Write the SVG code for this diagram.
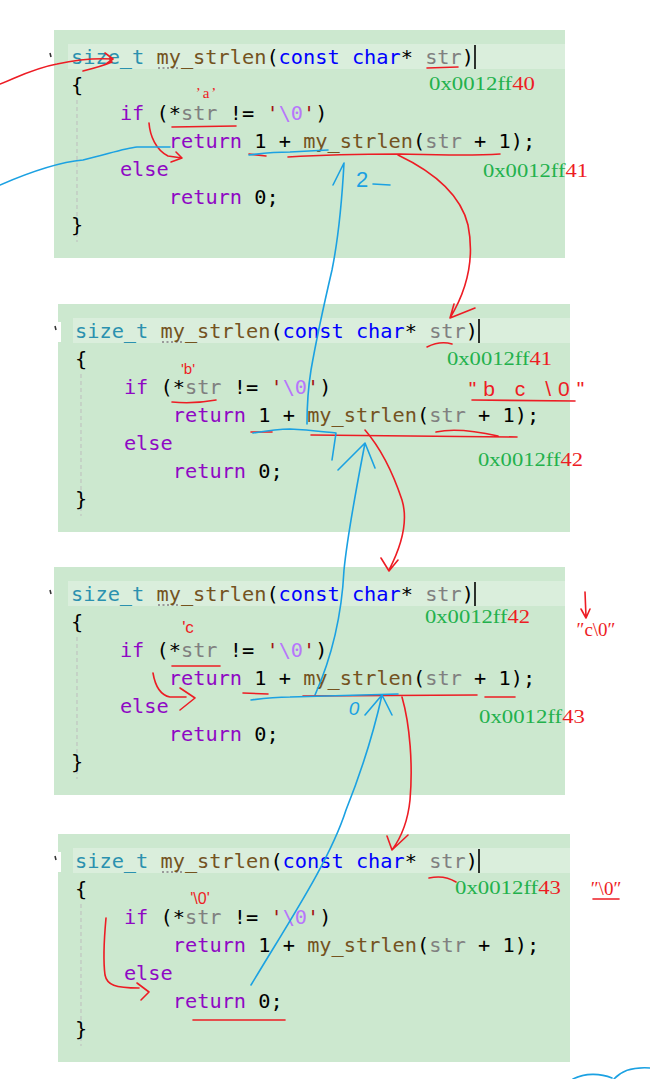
<svg xmlns="http://www.w3.org/2000/svg" width="650" height="1079" viewBox="0 0 650 1079">
<style>
.bg{fill:#CCE8CF}
.hd{fill:#DAEEDC}
.code{font-family:"DejaVu Sans Mono",monospace;font-size:20.3px;fill:#000}
.ty{fill:#2B91AF}.fn{fill:#74531F}.kw{fill:#0000FF}.pm{fill:#808080}.ct{fill:#8F08C4}.st{fill:#A31515}.es{fill:#B776FB}
.cur{stroke:#000;stroke-width:1.6}
.guide{stroke:#BDBDBD;stroke-width:1;stroke-dasharray:4 3}
.dots{stroke:#9A9A9A;stroke-width:2;stroke-dasharray:2 2.5}
.tick{stroke:#333;stroke-width:1.5}
.notch{fill:#FFFFFF}
.addr{font-family:"Liberation Serif",serif;font-size:18px;fill:#22B14C}
.addr .r{fill:#ED1C24}
.red{stroke:#ED1C24;fill:none;stroke-width:1.6;stroke-linecap:round;stroke-linejoin:round}
.blue{stroke:#1BA1E2;fill:none;stroke-width:1.6;stroke-linecap:round;stroke-linejoin:round}
.rt{font-family:"Liberation Sans",sans-serif;fill:#ED1C24}
.rs{font-family:"Liberation Serif",serif;fill:#ED1C24}
.bt{font-family:"Liberation Sans",sans-serif;fill:#1BA1E2}
</style>

<g id="frame1" transform="translate(54,30)">
<rect class="bg" x="0" y="0" width="511" height="228"/>
<rect class="hd" x="14" y="14" width="497" height="25"/>
<line class="tick" x1="-4" y1="23" x2="-3" y2="27"/>
<line class="guide" x1="23" y1="70" x2="23" y2="212"/>
<line class="dots" x1="104" y1="38" x2="124" y2="38"/>
<line class="cur" x1="421" y1="15" x2="421" y2="39"/>
<text class="code" xml:space="preserve" x="17" y="34"><tspan class="ty">size_t</tspan> <tspan class="fn">my_strlen</tspan>(<tspan class="kw">const</tspan> <tspan class="kw">char</tspan>* <tspan class="pm">str</tspan>)</text>
<text class="code" x="17" y="62">{</text>
<text class="code" xml:space="preserve" x="65.9" y="90"><tspan class="ct">if</tspan> (*<tspan class="pm">str</tspan> != <tspan class="st">'</tspan><tspan class="es">\0</tspan><tspan class="st">'</tspan>)</text>
<text class="code" xml:space="preserve" x="114.8" y="118"><tspan class="ct">return</tspan> 1 + <tspan class="fn">my_strlen</tspan>(<tspan class="pm">str</tspan> + 1);</text>
<text class="code" x="65.9" y="146"><tspan class="ct">else</tspan></text>
<text class="code" xml:space="preserve" x="114.8" y="174"><tspan class="ct">return</tspan> 0;</text>
<text class="code" x="17" y="202">}</text>
</g>

<g id="frame2" transform="translate(58,304)">
<rect class="bg" x="0" y="0" width="512" height="228"/>
<rect class="hd" x="15" y="14" width="497" height="25"/>
<rect class="notch" x="-1" y="18" width="4" height="20"/>
<line class="tick" x1="-3" y1="22" x2="-2" y2="26"/>
<line class="guide" x1="23" y1="70" x2="23" y2="212"/>
<line class="dots" x1="104" y1="38" x2="124" y2="38"/>
<line class="cur" x1="421" y1="15" x2="421" y2="39"/>
<text class="code" xml:space="preserve" x="17" y="34"><tspan class="ty">size_t</tspan> <tspan class="fn">my_strlen</tspan>(<tspan class="kw">const</tspan> <tspan class="kw">char</tspan>* <tspan class="pm">str</tspan>)</text>
<text class="code" x="17" y="62">{</text>
<text class="code" xml:space="preserve" x="65.9" y="90"><tspan class="ct">if</tspan> (*<tspan class="pm">str</tspan> != <tspan class="st">'</tspan><tspan class="es">\0</tspan><tspan class="st">'</tspan>)</text>
<text class="code" xml:space="preserve" x="114.8" y="118"><tspan class="ct">return</tspan> 1 + <tspan class="fn">my_strlen</tspan>(<tspan class="pm">str</tspan> + 1);</text>
<text class="code" x="65.9" y="146"><tspan class="ct">else</tspan></text>
<text class="code" xml:space="preserve" x="114.8" y="174"><tspan class="ct">return</tspan> 0;</text>
<text class="code" x="17" y="202">}</text>
</g>

<g id="frame3" transform="translate(54,567)">
<rect class="bg" x="0" y="0" width="511" height="228"/>
<rect class="hd" x="14" y="14" width="497" height="25"/>
<line class="tick" x1="-4" y1="23" x2="-3" y2="27"/>
<line class="guide" x1="23" y1="70" x2="23" y2="212"/>
<line class="dots" x1="104" y1="38" x2="124" y2="38"/>
<line class="cur" x1="421" y1="15" x2="421" y2="39"/>
<text class="code" xml:space="preserve" x="17" y="34"><tspan class="ty">size_t</tspan> <tspan class="fn">my_strlen</tspan>(<tspan class="kw">const</tspan> <tspan class="kw">char</tspan>* <tspan class="pm">str</tspan>)</text>
<text class="code" x="17" y="62">{</text>
<text class="code" xml:space="preserve" x="65.9" y="90"><tspan class="ct">if</tspan> (*<tspan class="pm">str</tspan> != <tspan class="st">'</tspan><tspan class="es">\0</tspan><tspan class="st">'</tspan>)</text>
<text class="code" xml:space="preserve" x="114.8" y="118"><tspan class="ct">return</tspan> 1 + <tspan class="fn">my_strlen</tspan>(<tspan class="pm">str</tspan> + 1);</text>
<text class="code" x="65.9" y="146"><tspan class="ct">else</tspan></text>
<text class="code" xml:space="preserve" x="114.8" y="174"><tspan class="ct">return</tspan> 0;</text>
<text class="code" x="17" y="202">}</text>
</g>

<g id="frame4" transform="translate(58,834)">
<rect class="bg" x="0" y="0" width="512" height="228"/>
<rect class="hd" x="15" y="14" width="497" height="25"/>
<rect class="notch" x="-1" y="18" width="4" height="20"/>
<line class="tick" x1="-3" y1="22" x2="-2" y2="26"/>
<line class="guide" x1="23" y1="70" x2="23" y2="212"/>
<line class="dots" x1="104" y1="38" x2="124" y2="38"/>
<line class="cur" x1="421" y1="15" x2="421" y2="39"/>
<text class="code" xml:space="preserve" x="17" y="34"><tspan class="ty">size_t</tspan> <tspan class="fn">my_strlen</tspan>(<tspan class="kw">const</tspan> <tspan class="kw">char</tspan>* <tspan class="pm">str</tspan>)</text>
<text class="code" x="17" y="62">{</text>
<text class="code" xml:space="preserve" x="65.9" y="90"><tspan class="ct">if</tspan> (*<tspan class="pm">str</tspan> != <tspan class="st">'</tspan><tspan class="es">\0</tspan><tspan class="st">'</tspan>)</text>
<text class="code" xml:space="preserve" x="114.8" y="118"><tspan class="ct">return</tspan> 1 + <tspan class="fn">my_strlen</tspan>(<tspan class="pm">str</tspan> + 1);</text>
<text class="code" x="65.9" y="146"><tspan class="ct">else</tspan></text>
<text class="code" xml:space="preserve" x="114.8" y="174"><tspan class="ct">return</tspan> 0;</text>
<text class="code" x="17" y="202">}</text>
</g>

<g id="addresses">
<text class="addr" x="429" y="90" textLength="106" lengthAdjust="spacingAndGlyphs">0x0012ff<tspan class="r">40</tspan></text>
<text class="addr" x="483" y="177" textLength="105" lengthAdjust="spacingAndGlyphs">0x0012ff<tspan class="r">41</tspan></text>
<text class="addr" x="447" y="365" textLength="105" lengthAdjust="spacingAndGlyphs">0x0012ff<tspan class="r">41</tspan></text>
<text class="addr" x="478" y="466" textLength="105" lengthAdjust="spacingAndGlyphs">0x0012ff<tspan class="r">42</tspan></text>
<text class="addr" x="425" y="623" textLength="105" lengthAdjust="spacingAndGlyphs">0x0012ff<tspan class="r">42</tspan></text>
<text class="addr" x="479" y="723" textLength="106" lengthAdjust="spacingAndGlyphs">0x0012ff<tspan class="r">43</tspan></text>
<text class="addr" x="455" y="894" textLength="106" lengthAdjust="spacingAndGlyphs">0x0012ff<tspan class="r">43</tspan></text>
</g>

<g id="notes">
<text class="rs" x="207" y="98" font-size="15" text-anchor="middle" letter-spacing="2">’a’</text>
<text class="rt" x="188" y="374" font-size="15" text-anchor="middle">'b'</text>
<text class="rt" x="530" y="396" font-size="21" text-anchor="middle" letter-spacing="7">"b c \0"</text>
<text class="rt" x="188" y="633" font-size="17" text-anchor="middle">'c</text>
<text class="rs" x="596" y="636" font-size="19" text-anchor="middle">″c\0″</text>
<text class="rt" x="200" y="904" font-size="16" text-anchor="middle">'\0'</text>
<text class="rs" x="606" y="895" font-size="19" text-anchor="middle">″\0″</text>
<text class="bt" x="356" y="187" font-size="22">2</text>
<text class="bt" x="354" y="715" font-size="19" text-anchor="middle" font-style="italic">0</text>
</g>

<g id="connectors">
<path class="red" d="M0,84 C20,76 35,68 57,64 C75,60 95,58 113,59 M105,53 L113,59 L106,64 M83,71 C95,68 105,65 112,62"/>
<path class="red" d="M427,68 L458,67"/>
<path class="red" d="M172,127 L236,126"/>
<path class="red" d="M149,123 C150,136 156,150 168,156 L182,158 M176,152 L182,158 L171,162"/>
<path class="red" d="M249,154 L266,156"/>
<path class="red" d="M288,157 C320,155 360,154 400,154 C440,155 470,156 500,154"/>
<path class="red" d="M398,155 C440,175 462,200 468,225 C474,255 470,285 450,318 M454,304 L450,318 L475,308"/>
<path class="blue" d="M0,185 C30,172 60,162 83,160 C105,155 125,148 137,147 L170,147"/>
<path class="blue" d="M249,155 C265,153 280,152 290,152 L328,150"/>
<path class="blue" d="M344,163 C342,200 338,240 332,270 C325,300 318,330 311,370 C307,395 307,410 307,424 M344,163 L333,185"/>
<path class="blue" d="M373,184 L390,185"/>
<path class="red" d="M427,347 C435,343 445,342 452,344"/>
<path class="red" d="M172,402 C190,404 205,402 216,400"/>
<path class="red" d="M472,400 L575,401"/>
<path class="red" d="M251,432 L272,432"/>
<path class="red" d="M311,435 L517,437 M436,432 C455,428 480,432 498,436"/>
<path class="red" d="M365,430 C378,445 392,470 402,500 C408,520 402,545 389,570 M381,558 L389,571 L398,560"/>
<path class="blue" d="M253,433 C265,431 280,429 290,429 C310,430 325,432 336,433 L332,460"/>
<path class="blue" d="M338,470 L365,443 L375,468 M365,443 C358,480 348,530 344,570 C342,610 335,650 315,695"/>
<path class="red" d="M585,592 L586,617 M581,609 L586,618 L590,609"/>
<path class="red" d="M172,666 L220,666"/>
<path class="red" d="M153,673 C155,685 160,695 170,697 L186,697 M180,688 L195,698 L180,710"/>
<path class="red" d="M243,693 L268,694"/>
<path class="red" d="M303,696 L477,695 M485,697 L515,697"/>
<path class="red" d="M402,697 C410,725 413,765 410,800 C408,820 403,835 392,850 M387,836 L392,850 L408,835"/>
<path class="blue" d="M251,700 C265,698 280,697 290,697 L398,694"/>
<path class="blue" d="M365,715 L382,695 L392,715 M382,695 C372,740 360,775 346,810 C330,860 290,920 251,985"/>
<path class="red" d="M429,878 C438,876 448,877 456,882"/>
<path class="red" d="M593,899 L619,899"/>
<path class="red" d="M106,918 C104,940 103,960 105,975 C107,985 115,988 139,988 M137,983 L149,992 L141,1000"/>
<path class="red" d="M193,1020 L285,1020"/>
<path class="blue" stroke-width="2.5" d="M573,1079 C585,1073 600,1073 612,1078 M614,1079 C622,1070 635,1067 650,1068"/>
</g>
</svg>
